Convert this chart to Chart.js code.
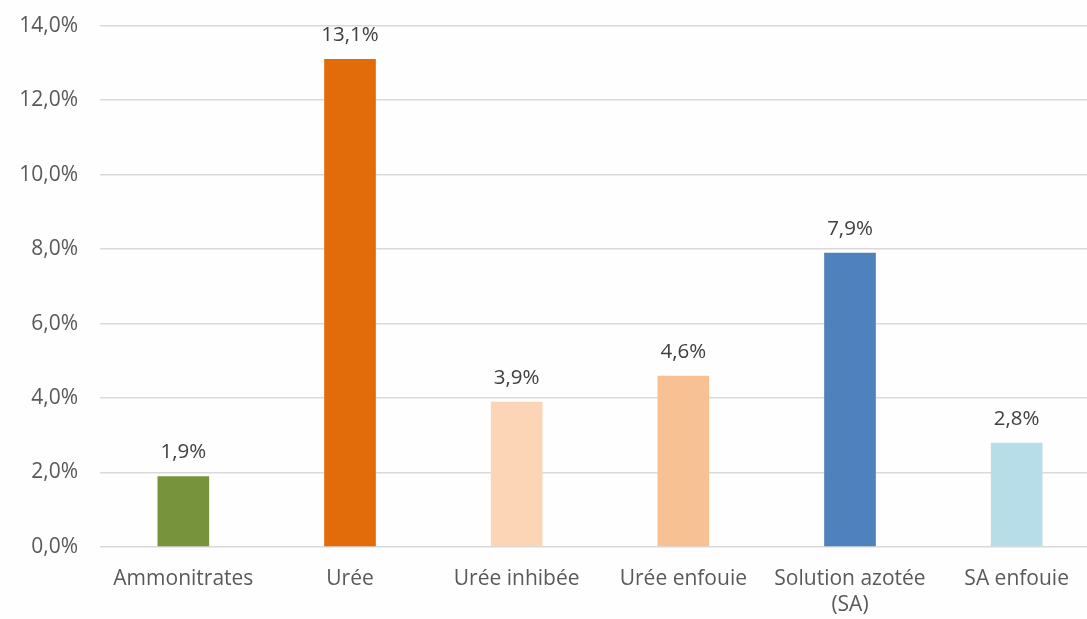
<!DOCTYPE html>
<html>
<head>
<meta charset="utf-8">
<script src="https://cdn.jsdelivr.net/npm/chart.js@4"></script>
<style>
  html, body { margin: 0; padding: 0; background: #fefefe; overflow: hidden; }
  #wrap { width: 1100px; height: 619px; overflow: hidden; }
  #pertes { display: block; margin-top: -9px; }
</style>
</head>
<body>
<div id="wrap"><canvas id="pertes" width="1100" height="628"></canvas></div>
<script>
var categories = ['Ammonitrates', 'Urée', 'Urée inhibée', 'Urée enfouie', ['Solution azotée', '(SA)'], 'SA enfouie'];
var values = [1.9, 13.1, 3.9, 4.6, 7.9, 2.8];
var barColors = ['#77933c', '#e36c0a', '#fbd5b5', '#f8c193', '#4f81bd', '#b7dde8'];
var yTicks = [0, 2, 4, 6, 8, 10, 12, 14];

function pct(v) {
    return v.toFixed(1).replace('.', ',') + '%';
}

// labels above each bar
var valueLabels = {
    id: 'valueLabels',
    afterDatasetsDraw: function (chart) {
        var ctx = chart.ctx;
        var meta = chart.getDatasetMeta(0);
        ctx.save();
        ctx.font = '20.5px "Open Sans"';
        ctx.fillStyle = '#404040';
        ctx.textAlign = 'center';
        ctx.textBaseline = 'middle';
        meta.data.forEach(function (bar, i) {
            ctx.fillText(pct(values[i]), bar.x, bar.y - 24);
        });
        ctx.restore();
    }
};

var ctx = document.getElementById('pertes').getContext('2d');
new Chart(ctx, {
    type: 'bar',
    data: {
        labels: categories,
        datasets: [{
            data: values,
            backgroundColor: barColors,
            borderWidth: 0,
            categoryPercentage: 1,
            barPercentage: 0.31
        }]
    },
    options: {
        responsive: false,
        animation: false,
        layout: { padding: { top: 11, left: 0, right: 0, bottom: 0 } },
        plugins: {
            legend: { display: false },
            tooltip: { enabled: false }
        },
        scales: {
            x: {
                grid: { display: false, drawTicks: false },
                border: { display: false },
                ticks: {
                    color: '#595959',
                    padding: 19,
                    maxRotation: 0,
                    autoSkip: false,
                    font: { family: 'Open Sans', size: 21, lineHeight: 1.25 }
                },
                afterFit: function (s) { s.height = 72; }
            },
            y: {
                min: 0,
                max: 14,
                afterBuildTicks: function (s) {
                    s.ticks = yTicks.map(function (v) { return { value: v }; });
                },
                grid: { color: '#d9d9d9', lineWidth: 1.5, drawTicks: false },
                border: { display: false },
                ticks: {
                    color: '#595959',
                    padding: 22,
                    font: { family: 'Open Sans', size: 21 },
                    callback: function (v) { return pct(v); }
                },
                afterFit: function (s) { s.width = 100; }
            }
        }
    },
    plugins: [valueLabels]
});
</script>
</body>
</html>
